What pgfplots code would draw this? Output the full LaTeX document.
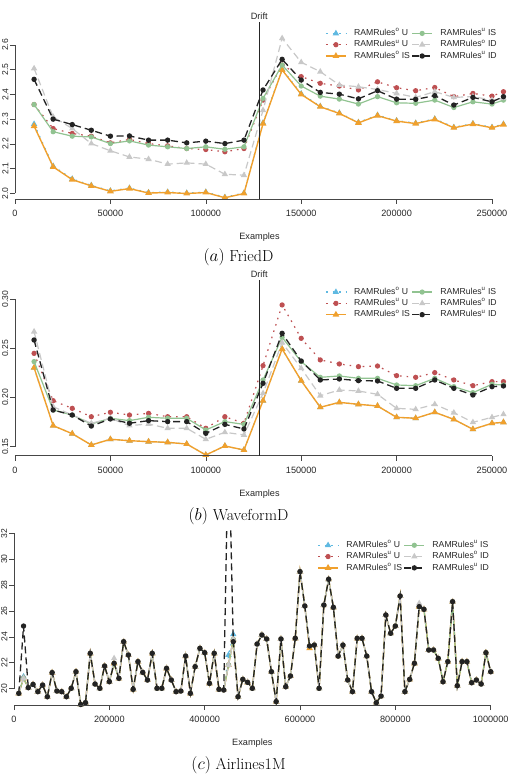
\documentclass[border=0pt]{standalone}
\usepackage{fontspec}
\usepackage{pgfplots}
\usepackage{pgfplotstable}
\pgfplotsset{compat=1.18}
\newfontfamily\chartfont{Liberation Sans}

\definecolor{cOU}{RGB}{95,185,225}
\definecolor{cUU}{RGB}{190,80,82}
\definecolor{cOIS}{RGB}{240,160,45}
\definecolor{cUIS}{RGB}{145,195,145}
\definecolor{cOID}{RGB}{200,200,200}
\definecolor{cUID}{RGB}{35,35,35}
\definecolor{axcol}{RGB}{70,70,70}

% FriedD: mean absolute error
\pgfplotstableread{
x      OU    UU    OIS   UIS   OID   UID
10000  2.280 2.359 2.272 2.359 2.505 2.461
20000  2.110 2.262 2.107 2.249 2.309 2.300
30000  2.058 2.242 2.055 2.231 2.262 2.278
40000  2.032 2.231 2.030 2.228 2.201 2.255
50000  2.010 2.204 2.008 2.201 2.172 2.231
60000  2.021 2.218 2.019 2.212 2.147 2.232
70000  2.003 2.201 2.001 2.195 2.138 2.215
80000  2.005 2.192 2.003 2.188 2.118 2.215
90000  2.001 2.181 1.999 2.181 2.123 2.204
100000 2.005 2.177 2.003 2.188 2.118 2.211
110000 1.984 2.168 1.982 2.178 2.077 2.201
120000 2.001 2.181 1.999 2.188 2.073 2.215
130000 2.285 2.377 2.282 2.384 2.336 2.418
140000 2.502 2.519 2.499 2.519 2.627 2.542
150000 2.403 2.472 2.400 2.434 2.530 2.458
160000 2.352 2.445 2.350 2.393 2.492 2.408
170000 2.325 2.434 2.323 2.381 2.438 2.401
180000 2.287 2.418 2.285 2.361 2.431 2.382
190000 2.316 2.451 2.314 2.391 2.420 2.415
200000 2.294 2.427 2.292 2.366 2.404 2.381
210000 2.284 2.415 2.282 2.364 2.388 2.380
220000 2.301 2.428 2.299 2.377 2.411 2.395
230000 2.267 2.391 2.265 2.347 2.388 2.357
240000 2.282 2.404 2.280 2.370 2.391 2.388
250000 2.267 2.393 2.265 2.361 2.377 2.370
256000 2.280 2.411 2.278 2.377 2.384 2.391
}\fried

% WaveformD
\pgfplotstableread{
x      OU    UU    OIS   UIS   OID   UID
10000  .2304 .2450 .2304 .2366 .2671 .2586
20000  .1714 .1968 .1714 .1873 .1907 .1873
30000  .1632 .1890 .1632 .1822 .1822 .1822
40000  .1517 .1805 .1517 .1731 .1738 .1710
50000  .1575 .1850 .1575 .1789 .1789 .1782
60000  .1561 .1822 .1561 .1765 .1714 .1738
70000  .1551 .1839 .1551 .1799 .1731 .1765
80000  .1544 .1805 .1544 .1789 .1687 .1755
90000  .1527 .1805 .1527 .1789 .1687 .1755
100000 .1415 .1687 .1415 .1670 .1575 .1636
110000 .1507 .1805 .1507 .1755 .1646 .1727
120000 .1466 .1738 .1466 .1727 .1619 .1680
130000 .1968 .2325 .1968 .2179 .2043 .2145
140000 .2495 .2943 .2495 .2613 .2559 .2654
150000 .2172 .2603 .2172 .2366 .2298 .2372
160000 .1901 .2383 .1901 .2206 .2019 .2179
170000 .1951 .2342 .1951 .2220 .2077 .2189
180000 .1931 .2315 .1931 .2196 .2067 .2172
190000 .1914 .2321 .1914 .2196 .2033 .2169
200000 .1799 .2223 .1799 .2128 .1890 .2094
210000 .1789 .2206 .1789 .2121 .1880 .2094
220000 .1850 .2254 .1850 .2196 .1931 .2179
230000 .1778 .2179 .1778 .2111 .1846 .2094
240000 .1677 .2121 .1677 .2050 .1748 .2026
250000 .1738 .2162 .1738 .2135 .1799 .2111
256000 .1748 .2162 .1748 .2128 .1829 .2118
}\wave

% Airlines1M
\pgfplotstableread{
x       OU    UU    OIS   UIS   OID   UID
10000   19.64 19.64 19.64 19.64 19.64 19.64
20000   20.93 20.80 20.80 20.80 20.80 24.84
30000   20.08 20.08 20.08 20.08 20.08 20.08
40000   20.33 20.33 20.33 20.33 20.33 20.33
50000   19.77 19.77 19.77 19.77 19.77 19.77
60000   20.28 20.28 20.28 20.28 20.28 20.28
70000   19.38 19.38 19.38 19.38 19.38 19.38
80000   21.24 21.24 21.24 21.24 21.24 21.24
90000   19.82 19.82 19.82 19.82 19.82 19.82
100000  19.77 19.77 19.77 19.77 19.77 19.77
110000  19.38 19.38 19.38 19.38 19.38 19.38
120000  20.03 20.03 20.03 20.03 20.03 20.03
130000  21.31 21.31 21.31 21.31 21.31 21.31
140000  18.78 18.78 18.78 18.78 18.78 18.78
150000  18.92 18.92 18.92 18.92 18.92 18.92
160000  22.73 22.73 22.73 22.73 22.73 22.73
170000  20.36 20.36 20.36 20.36 20.36 20.36
180000  20.03 20.03 20.03 20.03 20.03 20.03
190000  21.75 21.75 21.75 21.75 21.75 21.75
200000  20.54 20.54 20.54 20.54 20.54 20.54
210000  21.96 21.96 21.96 21.96 22.34 21.96
220000  20.80 20.80 20.80 20.80 20.80 20.80
230000  23.63 23.63 23.63 23.63 23.63 23.63
240000  22.60 22.60 22.60 22.60 22.60 22.60
250000  19.95 19.95 19.95 19.95 19.95 19.95
260000  22.09 22.09 22.09 22.09 22.09 22.09
270000  21.26 21.26 21.26 21.26 21.26 21.26
280000  20.67 20.67 20.67 20.67 20.67 20.67
290000  22.73 22.73 22.73 22.73 22.73 22.73
300000  20.03 20.03 20.03 20.03 20.03 20.03
310000  20.03 20.03 20.03 20.03 20.03 20.03
320000  21.57 21.57 21.57 21.57 21.57 21.57
330000  20.67 20.67 20.67 20.67 20.67 20.67
340000  19.77 19.77 19.77 19.77 19.77 19.77
350000  19.82 19.82 19.82 19.82 19.82 19.82
360000  22.52 22.52 22.52 22.52 22.52 22.52
370000  19.64 19.64 19.64 19.64 19.64 19.64
380000  21.70 21.70 21.70 21.70 21.70 21.70
390000  23.12 23.12 23.12 23.12 23.12 23.12
400000  22.78 22.78 22.78 22.78 22.78 22.78
410000  20.41 20.41 20.41 20.41 20.41 20.41
420000  22.73 22.73 22.73 22.73 22.73 22.73
430000  19.95 19.95 19.95 19.95 19.95 19.95
440000  19.90 19.90 19.90 19.90 19.90 19.90
450000  22.60 21.83 21.83 21.83 21.83 40.00
460000  24.20 23.80 23.80 23.80 23.80 23.63
470000  19.38 19.38 19.38 19.38 19.38 19.38
480000  20.72 20.72 20.72 20.72 20.72 20.72
490000  20.49 20.49 20.49 20.49 20.49 20.49
500000  20.03 20.03 20.03 20.03 20.03 20.03
510000  23.45 23.45 23.45 23.45 23.45 23.45
520000  24.15 24.15 24.15 24.15 24.15 24.15
530000  23.84 23.84 23.84 23.84 23.84 23.84
540000  21.31 21.31 21.31 21.31 21.31 21.31
550000  19.00 19.00 19.00 19.00 19.00 19.00
560000  23.84 23.84 23.84 23.84 23.84 23.84
570000  20.15 20.15 20.15 20.15 20.15 20.15
580000  20.98 20.98 20.98 20.98 20.98 20.98
590000  23.89 23.89 23.89 23.89 23.89 23.89
600000  29.04 29.04 29.04 29.04 29.04 29.04
610000  26.39 26.39 26.39 26.39 26.39 26.39
620000  23.30 23.30 23.12 23.30 23.30 23.30
630000  23.37 23.37 23.37 23.37 23.37 23.37
640000  20.03 20.03 20.03 20.03 20.03 20.03
650000  26.46 26.46 26.46 26.46 26.46 26.46
660000  28.45 28.45 28.45 28.45 28.45 28.45
670000  26.28 26.28 26.28 26.28 26.28 26.28
680000  22.52 22.52 22.52 22.52 22.52 22.52
690000  23.37 23.37 23.37 23.37 23.37 23.37
700000  20.67 20.67 20.67 20.67 20.67 20.67
710000  19.77 19.77 19.77 19.77 19.77 19.77
720000  23.89 23.89 23.89 23.89 23.89 23.89
730000  23.89 23.89 23.89 23.89 23.89 23.89
740000  22.52 22.52 22.52 22.52 22.52 22.52
750000  19.77 19.77 19.77 19.77 19.77 19.77
760000  18.92 18.92 18.92 18.92 18.92 18.92
770000  19.43 19.43 19.43 19.43 19.43 19.43
780000  25.69 25.69 25.69 25.69 25.69 25.69
790000  24.28 24.28 24.28 24.28 24.28 24.28
800000  24.84 24.84 24.84 24.84 24.84 24.84
810000  27.16 27.16 27.16 27.16 27.16 27.16
820000  19.77 19.77 19.77 19.77 19.77 19.77
830000  20.72 20.72 20.72 20.72 20.72 20.72
840000  21.96 21.96 21.96 21.96 21.96 21.96
850000  26.34 26.34 26.34 26.34 26.59 26.34
860000  26.13 26.13 26.13 26.13 26.13 26.13
870000  22.99 22.99 22.99 22.99 22.99 22.99
880000  22.99 22.99 22.99 22.99 22.99 22.99
890000  22.34 22.34 22.34 22.34 22.34 22.34
900000  20.54 20.54 20.54 20.54 20.54 20.54
910000  22.09 22.09 22.09 22.09 22.09 22.09
920000  26.72 26.72 26.72 26.72 26.72 26.72
930000  20.23 20.23 20.23 20.23 20.23 20.23
940000  22.09 22.09 22.09 22.09 22.09 22.09
950000  22.09 22.09 22.09 22.09 22.09 22.09
960000  20.46 20.46 20.46 20.46 20.46 20.46
970000  20.67 20.67 20.67 20.67 20.67 20.67
980000  20.36 20.36 20.36 20.36 20.36 20.36
990000  22.78 22.78 22.78 22.78 22.78 22.78
1000000 21.31 21.31 21.31 21.31 21.31 21.31
}\airlines

\tikzset{
  sOU/.style={color=cOU, line width=1.2bp, dash pattern=on 1.6bp off 5bp, mark=triangle*, mark size=2.5bp, mark options={solid}},
  sUU/.style={color=cUU, line width=1.2bp, dash pattern=on 1.6bp off 5bp, mark=*, mark size=2bp, mark options={solid}},
  sOIS/.style={color=cOIS, line width=1.4bp, solid, mark=triangle*, mark size=2.5bp},
  sUIS/.style={color=cUIS, line width=1.2bp, solid, mark=*, mark size=2bp},
  sOID/.style={color=cOID, line width=1.2bp, dash pattern=on 7bp off 4bp, mark=triangle*, mark size=2.5bp, mark options={solid}},
  sUID/.style={color=cUID, line width=1.3bp, dash pattern=on 7bp off 4bp, mark=*, mark size=2bp, mark options={solid}},
  axisln/.style={draw=axcol, line width=0.6bp},
}
\pgfplotsset{
  ramaxis/.style={
    scale only axis, anchor=south west, clip mode=individual,
    axis x line*=bottom, axis y line*=left,
    axis line style={draw=none},
    scaled x ticks=false, scaled y ticks=false,
    tick align=outside, major tick length=5bp,
    tick style={draw=axcol, line width=0.6bp},
    every tick label/.append style={font=\chartfont\fontsize{9.2}{11}\selectfont, text=black!85},
    yticklabel style={rotate=90, anchor=south, inner sep=0pt,
      font=\chartfont\fontsize{8.6}{10}\selectfont},
    yticklabel shift=1.5bp,
    xticklabel style={inner sep=0pt, anchor=north},
    xticklabel shift=6bp,
    xlabel style={at={(axis description cs:0.5,0)}, anchor=center, yshift=-38bp,
      font=\chartfont\fontsize{9.2}{11}\selectfont, text=black!85},
    legend cell align=left,
    legend image code/.code={\draw[mark repeat=2,mark phase=2,##1] plot coordinates {(0bp,0bp) (10bp,0bp) (20bp,0bp)};},
    legend style={draw=none, fill=none, anchor=north west, inner sep=0pt,
      font=\chartfont\fontsize{8.7}{10}\selectfont, text=black!85, row sep=2.3bp,
      nodes={inner sep=0.5bp, text height=6.2bp, text depth=1.8bp},
      /tikz/every odd column/.append style={column sep=7bp},
      /tikz/every even column/.append style={column sep=1bp}},
  },
}

\newcommand{\ramlegend}{%
  \addlegendimage{sOU}\addlegendentry{RAMRules\textsuperscript{o} U}
  \addlegendimage{sUIS}\addlegendentry{RAMRules\textsuperscript{u} IS}
  \addlegendimage{sUU}\addlegendentry{RAMRules\textsuperscript{u} U}
  \addlegendimage{sOID}\addlegendentry{RAMRules\textsuperscript{o} ID}
  \addlegendimage{sOIS}\addlegendentry{RAMRules\textsuperscript{o} IS}
  \addlegendimage{sUID}\addlegendentry{RAMRules\textsuperscript{u} ID}
}
\newcommand{\ramplots}[1]{%
  \addplot[sOU, forget plot] table[x=x, y=OU] {#1};
  \addplot[sUU, forget plot] table[x=x, y=UU] {#1};
  \addplot[sOIS, forget plot] table[x=x, y=OIS] {#1};
  \addplot[sUIS, forget plot] table[x=x, y=UIS] {#1};
  \addplot[sOID, forget plot] table[x=x, y=OID] {#1};
  \addplot[sUID, forget plot] table[x=x, y=UID] {#1};
}

\begin{document}
\begin{tikzpicture}
\useasboundingbox (0bp,0bp) rectangle (509bp,781bp);
\clip (0bp,0bp) rectangle (509bp,781bp);

% (a) FriedD
\begin{axis}[ramaxis,
  at={(15bp,582bp)}, width=489bp, height=177bp,
  xmin=0, xmax=256290, ymin=1.9769, ymax=2.693,
  xtick={0,50000,100000,150000,200000,250000},
  xticklabels={0,50000,100000,150000,200000,250000},
  ytick={2.0,2.1,2.2,2.3,2.4,2.5,2.6},
  yticklabels={2.0,2.1,2.2,2.3,2.4,2.5,2.6},
  xlabel={Examples},
  legend columns=2, legend style={at={(0.634,0.962)}},
]
\ramplots{\fried}
\ramlegend
\draw[axisln] (0,2.0) -- (0,2.6);
\draw[axisln] (0,1.9769) -- (250000,1.9769);
\draw[draw=black!85, line width=0.6bp] (128000,1.9769) -- (128000,2.693);
\node[font=\chartfont\fontsize{9.2}{11}\selectfont, anchor=base, inner sep=0pt, yshift=2.7bp, text=black!85] at (128000,2.693) {Drift};
\end{axis}

% (b) WaveformD
\begin{axis}[ramaxis,
  at={(15bp,325.3bp)}, width=489bp, height=175.7bp,
  xmin=0, xmax=256290, ymin=0.1408, ymax=0.3197,
  xtick={0,50000,100000,150000,200000,250000},
  xticklabels={0,50000,100000,150000,200000,250000},
  ytick={0.15,0.20,0.25,0.30},
  yticklabels={0.15,0.20,0.25,0.30},
  xlabel={Examples},
  legend columns=2, legend style={at={(0.634,0.958)}},
]
\ramplots{\wave}
\ramlegend
\draw[axisln] (0,0.15) -- (0,0.30);
\draw[axisln] (0,0.1408) -- (250000,0.1408);
\draw[draw=black!85, line width=0.6bp] (128000,0.1408) -- (128000,0.3197);
\node[font=\chartfont\fontsize{9.2}{11}\selectfont, anchor=base, inner sep=0pt, yshift=2.7bp, text=black!85] at (128000,0.3197) {Drift};
\end{axis}

% (c) Airlines1M
\begin{axis}[ramaxis,
  at={(14bp,76bp)}, width=476.7bp, height=174bp,
  xmin=0, xmax=1000000, ymin=18.74, ymax=32.18,
  xtick={0,200000,400000,600000,800000,1000000},
  xticklabels={0,200000,400000,600000,800000,1000000},
  ytick={20,22,24,26,28,30,32},
  yticklabels={20,22,24,26,28,30,32},
  xlabel={Examples},
  legend columns=2, legend style={at={(0.636,0.945)}},
]
\ramplots{\airlines}
\ramlegend
\draw[axisln] (0,20) -- (0,32);
\draw[axisln] (0,18.74) -- (1000000,18.74);
\end{axis}

% sub-captions
\node[font=\fontsize{16}{19}\selectfont] at (238.5bp,524bp) {$(a)$ FriedD};
\node[font=\fontsize{16}{19}\selectfont] at (238.5bp,265bp) {$(b)$ WaveformD};
\node[font=\fontsize{16}{19}\selectfont] at (238.5bp,16bp) {$(c)$ Airlines1M};
\end{tikzpicture}
\end{document}
